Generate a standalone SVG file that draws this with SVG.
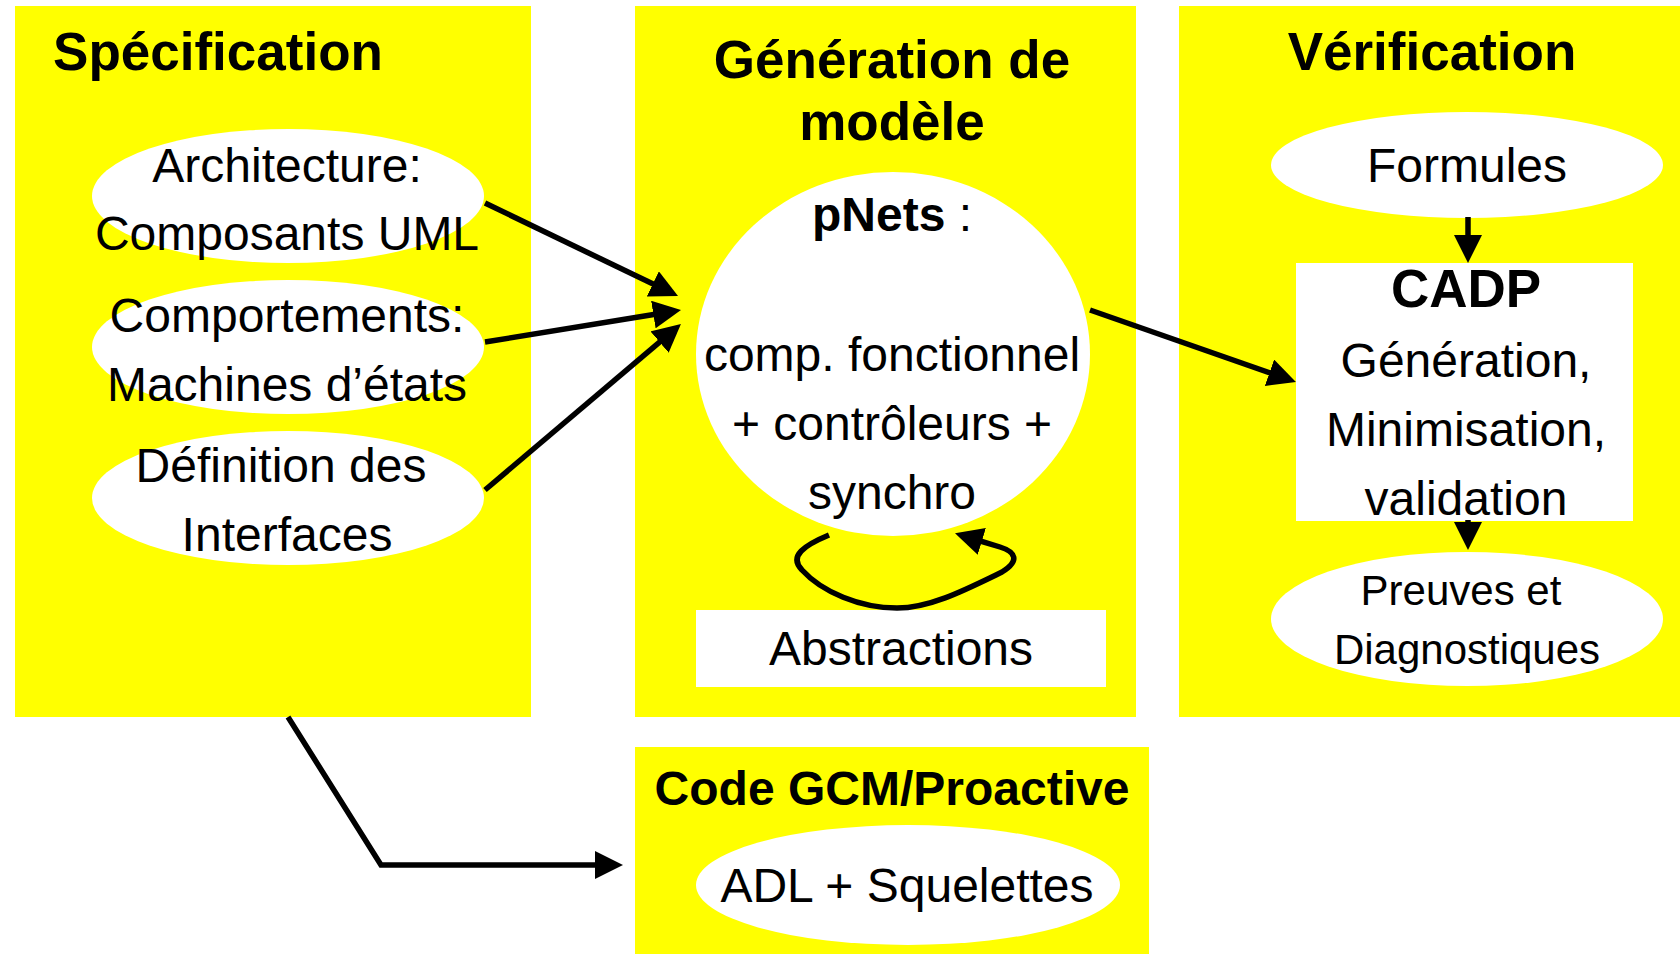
<svg xmlns="http://www.w3.org/2000/svg" width="1680" height="954" viewBox="0 0 1680 954">
<defs>
<style>
.panel{fill:#FFFF00;stroke:none}
.node{fill:#FFFFFF;stroke:none}
.title{font-family:"Liberation Sans",Arial,sans-serif;font-weight:bold;font-size:53px;fill:#000;text-anchor:middle}
.lbl{font-family:"Liberation Sans",Arial,sans-serif;font-size:48px;fill:#000;text-anchor:middle}
.sm{font-size:42px}
.conn{fill:none;stroke:#000;stroke-width:5.5}
</style>
<marker id="ah" markerUnits="userSpaceOnUse" markerWidth="28" markerHeight="28" refX="5" refY="14" orient="auto" viewBox="0 0 28 28">
<path d="M0,0 L28,14 L0,28 z" fill="#000"/>
</marker>
</defs>
<rect width="1680" height="954" fill="#FFFFFF"/>

<g id="panel-specification">
<rect class="panel" x="15" y="6" width="516" height="711"/>
<text class="title" x="218" y="70">Spécification</text>
</g>
<g id="panel-generation">
<rect class="panel" x="635" y="6" width="501" height="711"/>
<text class="title" x="892" y="78">Génération de</text>
<text class="title" x="892" y="140">modèle</text>
</g>
<g id="panel-verification">
<rect class="panel" x="1179" y="6" width="501" height="711"/>
<text class="title" x="1432" y="70">Vérification</text>
</g>
<g id="panel-code">
<rect class="panel" x="635" y="747" width="514" height="207"/>
<text class="title" x="892" y="805" style="font-size:48px">Code GCM/Proactive</text>
</g>

<g id="node-architecture">
<ellipse class="node" cx="288" cy="196" rx="196" ry="67"/>
<text class="lbl" x="287" y="182">Architecture:</text>
<text class="lbl" x="287" y="250">Composants UML</text>
</g>
<g id="node-comportements">
<ellipse class="node" cx="288" cy="347" rx="196" ry="67"/>
<text class="lbl" x="287" y="332">Comportements:</text>
<text class="lbl" x="287" y="401">Machines d’états</text>
</g>
<g id="node-interfaces">
<ellipse class="node" cx="288" cy="498" rx="196" ry="67"/>
<text class="lbl" x="281" y="482">Définition des</text>
<text class="lbl" x="287" y="551">Interfaces</text>
</g>

<g id="node-pnets">
<ellipse class="node" cx="893" cy="354" rx="197" ry="182"/>
<text class="lbl" x="892" y="231"><tspan font-weight="bold">pNets</tspan> :</text>
<text class="lbl" x="892" y="371">comp. fonctionnel</text>
<text class="lbl" x="892" y="440">+ contrôleurs +</text>
<text class="lbl" x="892" y="509">synchro</text>
</g>
<g id="node-abstractions">
<rect class="node" x="696" y="610" width="410" height="77"/>
<text class="lbl" x="901" y="665">Abstractions</text>
</g>

<g id="node-formules">
<ellipse class="node" cx="1467" cy="165" rx="196" ry="53"/>
<text class="lbl" x="1467" y="182">Formules</text>
</g>
<g id="node-cadp">
<rect class="node" x="1296" y="263" width="337" height="258"/>
<text class="title" x="1466" y="307">CADP</text>
<text class="lbl" x="1466" y="377">Génération,</text>
<text class="lbl" x="1466" y="446">Minimisation,</text>
<text class="lbl" x="1466" y="515">validation</text>
</g>
<g id="node-preuves">
<ellipse class="node" cx="1467" cy="619" rx="196" ry="67"/>
<text class="lbl sm" x="1461" y="605">Preuves et</text>
<text class="lbl sm" x="1467" y="664">Diagnostiques</text>
</g>

<g id="node-adl">
<ellipse class="node" cx="908" cy="885" rx="212" ry="60"/>
<text class="lbl" x="907" y="902">ADL + Squelettes</text>
</g>

<g id="connectors">
<line class="conn" x1="485" y1="203" x2="657.3" y2="286.1" marker-end="url(#ah)"/>
<line class="conn" x1="485" y1="342" x2="658.3" y2="313.7" marker-end="url(#ah)"/>
<line class="conn" x1="485" y1="490" x2="663.4" y2="338.9" marker-end="url(#ah)"/>
<line class="conn" x1="1090" y1="310" x2="1274.2" y2="374.4" marker-end="url(#ah)"/>
<polyline class="conn" points="288,717 381,865 600,865" marker-end="url(#ah)"/>
<line class="conn" x1="1468" y1="217" x2="1468" y2="240" marker-end="url(#ah)"/>
<line class="conn" x1="1468" y1="520" x2="1468" y2="527" marker-end="url(#ah)"/>
<path class="conn" d="M829,535 C805,545 788,556 802,570 C822,592 860,608 897,608 C930,608 965,590 1002,572 C1020,561 1016,552 1000,547 L977,540" marker-end="url(#ah)"/>
</g>
</svg>
